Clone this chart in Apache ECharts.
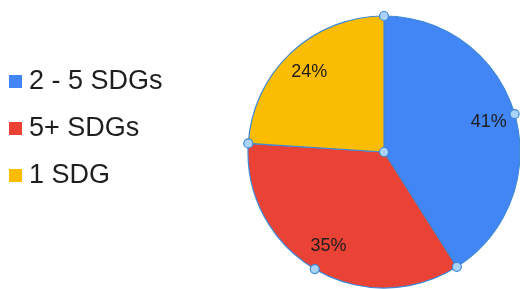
<!DOCTYPE html>
<html>
<head>
<meta charset="utf-8">
<script src="https://cdn.jsdelivr.net/npm/echarts@6/dist/echarts.min.js"></script>
<style>
html,body{margin:0;padding:0;background:#fff;}
#chart{width:520px;height:289px;}
</style>
</head>
<body>
<div id="chart"></div>
<script>
const categories = ['2 - 5 SDGs', '5+ SDGs', '1 SDG'];
const values = [41, 35, 24];
const colors = ['#4285F4', '#EA4335', '#FBBC04'];
const handleSlices = [0, 1];

const CX = 384, CY = 152, R = 136;

const chart = echarts.init(document.getElementById('chart'), null, {renderer: 'canvas'});
const data = categories.map((n, i) => ({name: n, value: values[i], itemStyle: {color: colors[i]}}));
const total = values.reduce((a, b) => a + b, 0);

function pt(frac, r) {
  const a = frac * 2 * Math.PI;
  return [CX + r * Math.sin(a), CY - r * Math.cos(a)];
}
const handles = [[CX, CY]];
let cum = 0;
const bounds = [0];
values.forEach(v => { cum += v; bounds.push(cum / total); });
const pushed = new Set();
handleSlices.forEach(i => {
  [bounds[i], bounds[i + 1]].forEach(f => {
    const k = f.toFixed(5);
    if (!pushed.has(k)) { pushed.add(k); handles.push(pt(f, R)); }
  });
  handles.push(pt((bounds[i] + bounds[i + 1]) / 2, R));
});

chart.setOption({
  animation: false,
  backgroundColor: '#fff',
  legend: {
    orient: 'vertical',
    left: 9,
    top: 68,
    padding: 0,
    icon: 'rect',
    itemWidth: 13,
    itemHeight: 13,
    itemGap: 20,
    itemStyle: {borderWidth: 0},
    textStyle: {fontFamily: 'Liberation Sans, Arial', fontSize: 27, lineHeight: 27, color: '#1e1e1e', padding: [0, 0, 0, 2]},
    data: categories
  },
  series: [{
    type: 'pie',
    center: [CX, CY],
    radius: [0, R],
    startAngle: 90,
    clockwise: true,
    data: data,
    label: {show: false},
    labelLine: {show: false},
    itemStyle: {borderColor: '#3f88d6', borderWidth: 1.2},
    emphasis: {disabled: true},
    silent: true
  }, {
    type: 'pie',
    center: [CX, CY],
    radius: [R * 0.56, R],
    startAngle: 90,
    clockwise: true,
    data: data.map(d => ({name: d.name, value: d.value, itemStyle: {color: 'rgba(0,0,0,0)'}})),
    itemStyle: {borderWidth: 0},
    label: {
      show: true,
      position: 'inside',
      formatter: p => p.value + '%',
      fontFamily: 'Liberation Sans, Arial',
      fontSize: 18,
      color: '#1e1e1e'
    },
    labelLine: {show: false},
    emphasis: {disabled: true},
    silent: true
  }],
  graphic: handles.map(h => ({
    type: 'circle',
    shape: {cx: h[0], cy: h[1], r: 4.5},
    style: {fill: '#aad3f7', stroke: '#3f88d6', lineWidth: 1.2},
    z: 100,
    silent: true
  }))
});
</script>
</body>
</html>
